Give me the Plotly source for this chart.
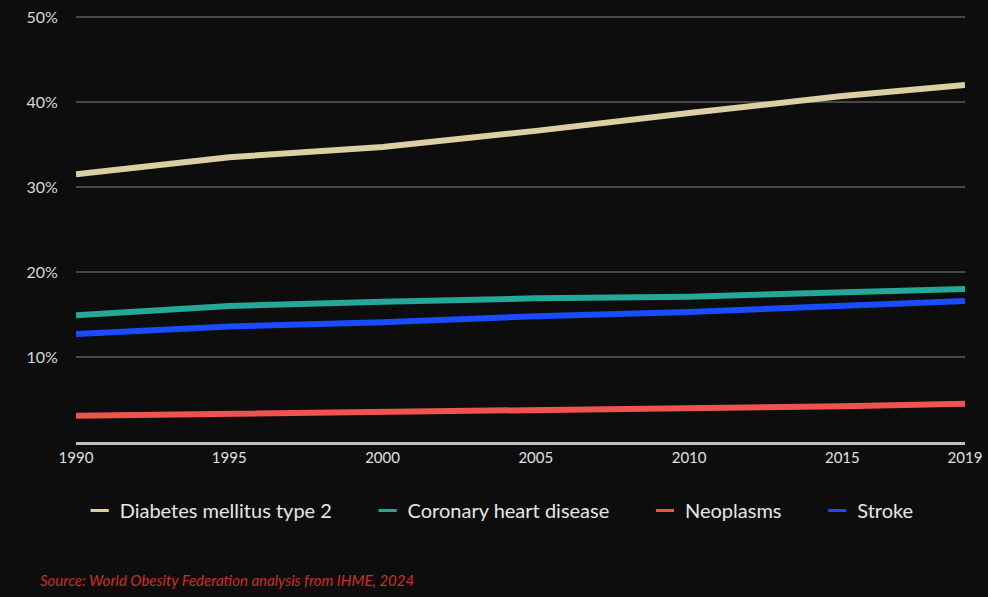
import plotly.graph_objects as go

years = [1990, 1995, 2000, 2005, 2010, 2015, 2019]
diabetes = [31.5, 33.5, 34.7, 36.6, 38.7, 40.7, 42.0]
coronary = [14.9, 16.0, 16.5, 16.9, 17.1, 17.6, 18.0]
neoplasms = [3.1, 3.3, 3.5, 3.8, 4.0, 4.2, 4.5]
stroke = [12.7, 13.6, 14.1, 14.8, 15.3, 16.1, 16.6]

series_names = ["Diabetes mellitus type 2", "Coronary heart disease", "Neoplasms", "Stroke"]
series_values = [diabetes, coronary, neoplasms, stroke]
series_colors = ["#dccfa2", "#25a898", "#ef5350", "#1a4cff"]

x_ticks = [1990, 1995, 2000, 2005, 2010, 2015, 2019]
y_ticks = [10, 20, 30, 40, 50]

PAD = "\u00a0" * 6

fig = go.Figure()
for name, vals, col in zip(series_names, series_values, series_colors):
    fig.add_trace(go.Scatter(x=years, y=vals, name=name, mode="lines",
                             line=dict(color=col, width=6), showlegend=False))
# legend entries (short dash symbols)
for i, (name, col) in enumerate(zip(series_names, series_colors)):
    label = name + (PAD if i < len(series_names) - 1 else "")
    fig.add_trace(go.Scatter(x=[None], y=[None], name=label, mode="markers",
                             marker=dict(symbol="line-ew-open", size=13, color=col,
                                         line=dict(color=col, width=3)),
                             showlegend=True))

fig.update_layout(
    width=988, height=597,
    margin=dict(l=76, r=23, t=14, b=155),
    paper_bgcolor="#0d0d0d", plot_bgcolor="#0d0d0d",
    font=dict(family="Lato, sans-serif", color="#d8d8d8"),
    showlegend=True,
    legend=dict(orientation="h", x=0.476, xanchor="center", y=-0.16, yanchor="middle",
                font=dict(size=20, color="#e6e6e6"), itemsizing="trace",
                traceorder="normal"),
    xaxis=dict(range=[1990, 2019], tickvals=x_ticks, ticktext=[str(t) for t in x_ticks],
               showgrid=False, zeroline=False, showline=True, linecolor="#bdbdbd",
               linewidth=3, ticks="", automargin=False,
               tickfont=dict(size=15, color="#e0e0e0")),
    yaxis=dict(range=[0, 50.35], tickvals=y_ticks, ticktext=[f"{t}%" for t in y_ticks],
               showgrid=True, gridcolor="#474747", gridwidth=2, zeroline=False,
               showline=False, ticks="outside", ticklen=14, tickcolor="rgba(0,0,0,0)",
               automargin=False, tickfont=dict(size=16, color="#d8d8d8")),
)

fig.add_annotation(text="Source: World Obesity Federation analysis from IHME, 2024",
                   xref="paper", yref="paper", x=-0.043, y=-0.322, xanchor="left", yanchor="middle",
                   showarrow=False,
                   font=dict(size=15, color="#cc2f28", family="Lato, sans-serif", style="italic"))

fig.write_html("out.html")
